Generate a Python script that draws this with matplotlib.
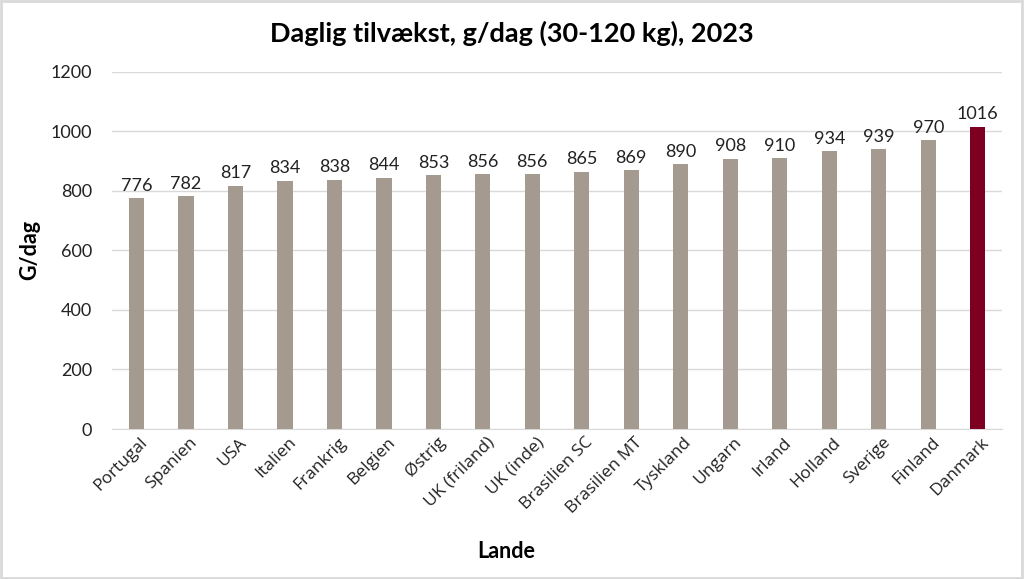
import matplotlib.pyplot as plt
import matplotlib.transforms as mtransforms
import numpy as np

lande = ['Portugal', 'Spanien', 'USA', 'Italien', 'Frankrig', 'Belgien', 'Østrig',
         'UK (friland)', 'UK (inde)', 'Brasilien SC', 'Brasilien MT', 'Tyskland',
         'Ungarn', 'Irland', 'Holland', 'Sverige', 'Finland', 'Danmark']
tilvaekst = [776, 782, 817, 834, 838, 844, 853, 856, 856, 865, 869, 890,
             908, 910, 934, 939, 970, 1016]

plt.rcParams['font.family'] = ['Lato', 'DejaVu Sans']

fig = plt.figure(figsize=(10.24, 5.79), dpi=100)
ax = fig.add_axes([0.109, 0.259, 0.870, 0.617])

kolory = ['#a59a90'] * (len(lande) - 1) + ['#7d0022']
x = np.arange(len(lande))
ax.bar(x, tilvaekst, width=0.31, color=kolory, zorder=3)

for xi, v in zip(x, tilvaekst):
    ax.text(xi, v + 15, str(v), ha='center', va='bottom', fontsize=13, color='#222222')

ax.set_xlim(-0.5, len(lande) - 0.5)
ax.set_ylim(0, 1200)
ax.set_yticks(range(0, 1201, 200))
ax.grid(axis='y', color='#d9d9d9', linewidth=1, zorder=0)
for s in ['top', 'right', 'left']:
    ax.spines[s].set_visible(False)
ax.spines['bottom'].set_color('#d9d9d9')
ax.tick_params(axis='both', length=0, labelsize=13, colors='#222222')
ax.tick_params(axis='y', pad=14)
ax.tick_params(axis='x', pad=8)
ax.set_xticks(x)
ax.set_xticklabels(lande, rotation=45, ha='right', va='center', rotation_mode='anchor',
                   family=['Open Sans', 'DejaVu Sans'], fontsize=12.5)
przesun = mtransforms.ScaledTranslation(9 / 100, 0, fig.dpi_scale_trans)
for lbl in ax.get_xticklabels():
    lbl.set_transform(lbl.get_transform() + przesun)

fig.text(0.5, 1 - 33 / 579, 'Daglig tilvækst, g/dag (30-120 kg), 2023', fontsize=19.5,
         fontweight='bold', ha='center', va='center')
fig.text(506 / 1024, 1 - 551 / 579, 'Lande', fontsize=15.5, fontweight='bold',
         ha='center', va='center')
fig.text(30 / 1024, 1 - 250 / 579, 'G/dag', fontsize=15.5, fontweight='bold',
         ha='center', va='center', rotation=90)

fig.patches.append(plt.Rectangle((0.001, 0.002), 0.997, 0.996, transform=fig.transFigure,
                                 fill=False, edgecolor='#d9d9d9', linewidth=2))

fig.savefig('out.png', dpi=100)
